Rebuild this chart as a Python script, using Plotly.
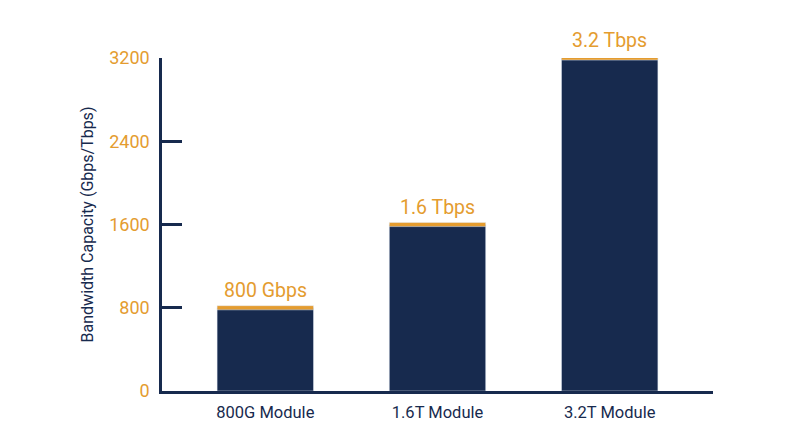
import plotly.graph_objects as go

# ── data ─────────────────────────────────────────────────────────────────────
modules = ["800G Module", "1.6T Module", "3.2T Module"]
capacity = [800, 1600, 3200]
bar_labels = ["800 Gbps", "1.6 Tbps", "3.2 Tbps"]
y_ticks = [0, 800, 1600, 2400, 3200]

NAVY = "#172a4e"
ORANGE = "#e49c2f"
CAP = 20          # half thickness of the orange cap, in data units

fig = go.Figure()
fig.add_bar(x=modules, y=capacity, marker_color=NAVY, width=0.56,
            hoverinfo="skip")
# thin orange strip sitting on top of each bar
fig.add_bar(x=modules, y=[2 * CAP] * len(capacity),
            base=[v - CAP for v in capacity],
            marker_color=ORANGE, width=0.56, hoverinfo="skip")

# anchor at the bar value (inside the axis range) and lift by pixels
for m, v, lab in zip(modules, capacity, bar_labels):
    fig.add_annotation(x=m, y=v, text=lab, showarrow=False,
                       yanchor="bottom", yshift=4,
                       font=dict(color=ORANGE, size=19.5, family="Roboto"))

# page body adds an 8px offset, so the figure is 8px smaller each way
fig.update_layout(
    barmode="overlay", showlegend=False,
    width=792, height=439,
    paper_bgcolor="white", plot_bgcolor="white",
    margin=dict(l=154, r=87, t=50, b=56),
    font=dict(family="Roboto", color=NAVY),
)
fig.update_xaxes(
    range=[-0.6, 2.6], showgrid=False, zeroline=False,
    showline=True, linecolor=NAVY, linewidth=2.5,
    ticks="", tickfont=dict(size=16.5, color=NAVY), ticklabelstandoff=4,
)
fig.update_yaxes(
    range=[0, 3200], tickvals=y_ticks, showgrid=False, zeroline=False,
    showline=True, linecolor=NAVY, linewidth=2.5,
    ticks="inside", ticklen=20, tickwidth=2.5, tickcolor=NAVY,
    tickfont=dict(size=18, color=ORANGE), ticklabelstandoff=6,
    title=dict(text="Bandwidth Capacity (Gbps/Tbps)", standoff=12,
               font=dict(size=16, color=NAVY)),
)

fig.write_html("out.html")
